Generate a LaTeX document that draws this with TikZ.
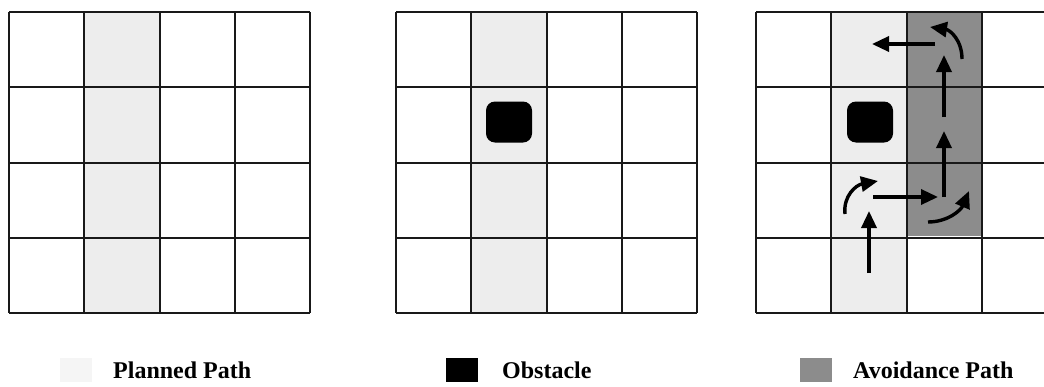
\documentclass[tikz,border=0pt]{standalone}
\usepackage{fontspec}
\setmainfont{Liberation Serif}
\usepackage{tikz}
\usetikzlibrary{positioning,arrows.meta}

\begin{document}
\begin{tikzpicture}[
    x=1pt, y=-1pt,
    gridline/.style={line width=2pt, black!90},
    planned/.style={fill=black!7},
    avoid/.style={fill=black!45},
    obstacle/.style={fill=black, rounded corners=9pt, minimum width=46pt, minimum height=41pt, inner sep=0pt},
    key/.style={minimum width=32pt, minimum height=24pt, inner sep=0pt},
    keytext/.style={font=\fontsize{24}{27}\selectfont\bfseries, inner sep=0pt, anchor=base west},
    arrow/.style={-{Triangle[length=17pt,width=15pt]}, line width=3.4pt}
  ]
    \useasboundingbox (0,0) rectangle (1044,386);
    \clip (0,0) rectangle (1044,386);

    % shaded cells
    \fill[planned] (84,12) rectangle (160,313);
    \fill[planned] (471,12) rectangle (546,313);
    \fill[planned] (832,12) rectangle (907,313);
    \fill[avoid] (907,12) rectangle (982,236);

    % the three 4x4 grids
    \foreach \gx in {9,396,756} {
      \foreach \i in {0,...,4} {
        \draw[gridline] (\gx+\i*75.25,12) -- (\gx+\i*75.25,313);
        \draw[gridline] (\gx,12+\i*75.25) -- (\gx+301,12+\i*75.25);
      }
    }

    \node[obstacle] (obs-mid) at (509,122) {};
    \node[obstacle] (obs-right) at (870,122) {};

    % avoidance moves
    \coordinate (start) at (869,273);
    \coordinate (stop) at (869,211);
    \coordinate (turn1a) at (845,214);
    \coordinate (turn1b) at (878,181);
    \coordinate (side1a) at (873,197);
    \coordinate (side1b) at (938,197);
    \coordinate (turn2a) at (928,222);
    \coordinate (turn2b) at (969,191);
    \coordinate (up1a) at (944,197);
    \coordinate (up1b) at (944,131);
    \coordinate (up2a) at (944,117);
    \coordinate (up2b) at (944,55);
    \coordinate (turn3a) at (962,59);
    \coordinate (turn3b) at (930,27);
    \coordinate (back1a) at (935,44);
    \coordinate (back1b) at (872,44);

    \draw[arrow] (start) -- (stop);
    \draw[arrow] (turn1a) .. controls (843,196) and (856,185) .. (turn1b);
    \draw[arrow] (side1a) -- (side1b);
    \draw[arrow] (turn2a) .. controls (948,222) and (961,210) .. (turn2b);
    \draw[arrow] (up1a) -- (up1b);
    \draw[arrow] (up2a) -- (up2b);
    \draw[arrow] (turn3a) .. controls (962,40) and (950,30) .. (turn3b);
    \draw[arrow] (back1a) -- (back1b);

    % legend
    \node[key, fill=black!4] (planned-key) at (76,370) {};
    \node[keytext] (planned-text) at (113,378) {Planned Path};
    \node[key, fill=black] (obstacle-key) at (462,370) {};
    \node[keytext] (obstacle-text) at (502,378) {Obstacle};
    \node[key, fill=black!45] (avoid-key) at (816,370) {};
    \node[keytext] (avoid-text) at (853,378) {Avoidance Path};
  \end{tikzpicture}
\end{document}
